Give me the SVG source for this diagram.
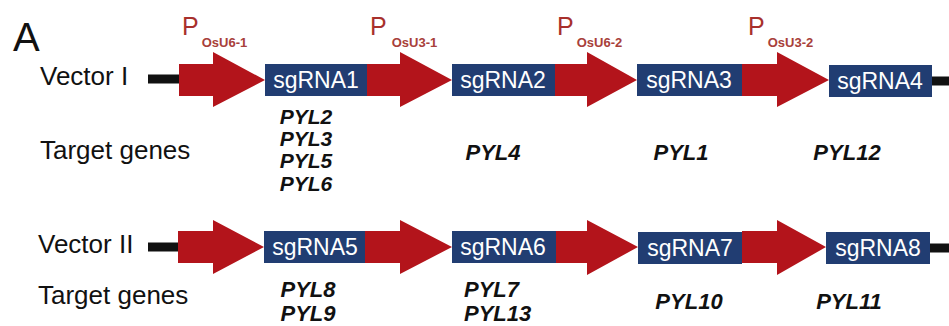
<svg xmlns="http://www.w3.org/2000/svg" width="949" height="326" viewBox="0 0 949 326">
  <style>
    .lbl { font-family: "Liberation Sans", Arial, sans-serif; font-size: 26px; fill: #111; }
    .big { font-family: "Liberation Sans", Arial, sans-serif; font-size: 40px; fill: #111; }
    .prom { font-family: "Liberation Sans", Arial, sans-serif; font-size: 25px; fill: #a8302c; }
    .sub { font-size: 13px; font-weight: bold; fill: #a8403a; }
    .arrow { fill: #b3141b; }
    .box { fill: #213d72; }
    .boxt { font-family: "Liberation Sans", Arial, sans-serif; font-size: 23px; fill: #fff; text-anchor: middle; }
    .gene { font-family: "Liberation Sans", Arial, sans-serif; font-size: 22px; font-weight: bold; font-style: italic; fill: #111; }
    .stack { font-size: 21px; }
    .mid { text-anchor: middle; }
    .bb { stroke: #111; stroke-width: 9; fill: none; }
  </style>

  <rect x="0" y="0" width="949" height="326" fill="#fff"/>

  <text class="big" x="13" y="51">A</text>

  <!-- backbone segments -->
  <g id="connectors">
    <line class="bb" x1="148" y1="79" x2="182" y2="79"/>
    <line class="bb" x1="930" y1="81" x2="949" y2="81"/>
    <line class="bb" x1="148" y1="247" x2="180" y2="247"/>
    <line class="bb" x1="928" y1="248" x2="949" y2="248"/>
  </g>

  <!-- promoter labels -->
  <g id="promoters">
    <text class="prom" x="182" y="35">P<tspan class="sub" dx="3" dy="12">OsU6-1</tspan></text>
    <text class="prom" x="370" y="35">P<tspan class="sub" dx="5" dy="12">OsU3-1</tspan></text>
    <text class="prom" x="557" y="35">P<tspan class="sub" dx="3" dy="12">OsU6-2</tspan></text>
    <text class="prom" x="748" y="35">P<tspan class="sub" dx="3" dy="12">OsU3-2</tspan></text>
  </g>

  <!-- Vector I -->
  <g id="vector1">
    <text class="lbl" x="40" y="85">Vector I</text>
    <g id="v1-arrows">
      <polygon class="arrow" points="179,64 213,64 213,52 265,80 213,107 213,96 179,96"/>
      <polygon class="arrow" points="366,64 400,64 400,52 452,80 400,107 400,96 366,96"/>
      <polygon class="arrow" points="554,64 587,64 587,52 637,80 587,107 587,96 554,96"/>
      <polygon class="arrow" points="741,64 777,64 777,52 829,80 777,107 777,96 741,96"/>
    </g>
    <g id="sgRNA1"><rect class="box" x="265" y="64" width="102" height="32"/><text class="boxt" x="316" y="88">sgRNA1</text></g>
    <g id="sgRNA2"><rect class="box" x="452" y="64" width="103" height="32"/><text class="boxt" x="503" y="88">sgRNA2</text></g>
    <g id="sgRNA3"><rect class="box" x="637" y="64" width="105" height="32"/><text class="boxt" x="689" y="88">sgRNA3</text></g>
    <g id="sgRNA4"><rect class="box" x="829" y="65" width="103" height="32"/><text class="boxt" x="880" y="89">sgRNA4</text></g>
  </g>

  <!-- targets of Vector I -->
  <g id="targets1">
    <text class="lbl" x="40" y="159">Target genes</text>
    <text class="gene stack mid" x="306" y="124">PYL2</text>
    <text class="gene stack mid" x="306" y="146">PYL3</text>
    <text class="gene stack mid" x="306" y="168">PYL5</text>
    <text class="gene stack mid" x="306" y="191">PYL6</text>
    <text class="gene mid" x="493" y="160">PYL4</text>
    <text class="gene mid" x="681" y="160">PYL1</text>
    <text class="gene mid" x="847" y="160">PYL12</text>
  </g>

  <!-- Vector II -->
  <g id="vector2">
    <text class="lbl" x="38" y="253">Vector II</text>
    <g id="v2-arrows">
      <polygon class="arrow" points="178,231 213,231 213,220 264,247 213,274 213,263 178,263"/>
      <polygon class="arrow" points="365,231 400,231 400,220 452,247 400,274 400,263 365,263"/>
      <polygon class="arrow" points="556,231 587,231 587,220 638,247 587,275 587,263 556,263"/>
      <polygon class="arrow" points="742,231 777,231 777,220 826,247 777,275 777,263 742,263"/>
    </g>
    <g id="sgRNA5"><rect class="box" x="264" y="231" width="101" height="32"/><text class="boxt" x="315" y="255">sgRNA5</text></g>
    <g id="sgRNA6"><rect class="box" x="452" y="231" width="104" height="32"/><text class="boxt" x="503" y="255">sgRNA6</text></g>
    <g id="sgRNA7"><rect class="box" x="638" y="232" width="104" height="32"/><text class="boxt" x="690" y="256">sgRNA7</text></g>
    <g id="sgRNA8"><rect class="box" x="826" y="232" width="104" height="32"/><text class="boxt" x="878" y="256">sgRNA8</text></g>
  </g>

  <!-- targets of Vector II -->
  <g id="targets2">
    <text class="lbl" x="38" y="304">Target genes</text>
    <text class="gene mid" x="308" y="297">PYL8</text>
    <text class="gene mid" x="308" y="321">PYL9</text>
    <text class="gene" x="464" y="297">PYL7</text>
    <text class="gene" x="464" y="321">PYL13</text>
    <text class="gene mid" x="689" y="309">PYL10</text>
    <text class="gene mid" x="849" y="309">PYL11</text>
  </g>
</svg>
